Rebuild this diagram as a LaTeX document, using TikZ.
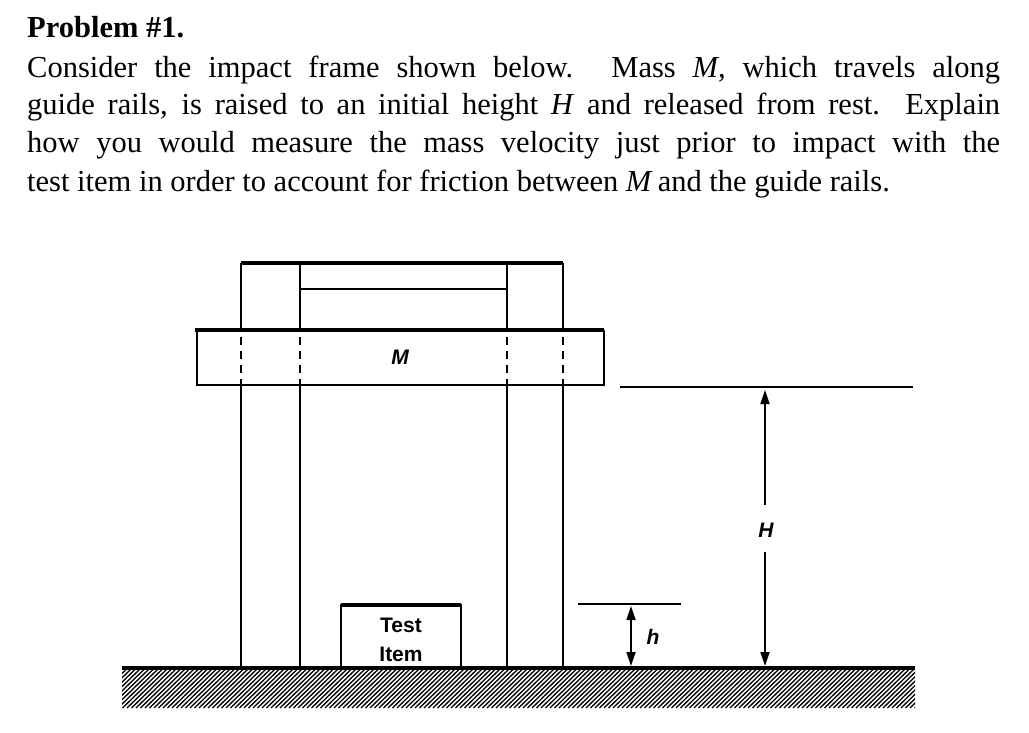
\documentclass[tikz,border=0pt]{standalone}
\usepackage{fontspec}
\setmainfont{Liberation Serif}
\newfontfamily\lab{Liberation Sans}
\usetikzlibrary{arrows.meta}
\begin{document}
\begin{tikzpicture}[x=1pt,y=-1pt,
  ln/.style={line width=2.2pt},
  thk/.style={line width=3.2pt},
  lbl/.style={font=\lab\bfseries\itshape\fontsize{21}{23}\selectfont,inner sep=0},
  txt/.style={anchor=north west,inner sep=0,text width=973pt,align=justify,font=\fontsize{30.5}{36}\selectfont},
  dim/.style={line width=1.8pt,-{Triangle[length=14pt,width=9pt]}}]
\useasboundingbox (0,0) rectangle (1029,733);
\node[txt] (t0) at (27,16) {\textbf{Problem \#1.}};
\node[txt] (t1) at (27,56) {\parfillskip=0pt Consider the impact frame shown below. Mass \textit{M}, which travels along\par};
\node[txt] (t2) at (27,93) {\parfillskip=0pt guide rails, is raised to an initial height \textit{H} and released from rest. Explain\par};
\node[txt] (t3) at (27,131) {\parfillskip=0pt how you would measure the mass velocity just prior to impact with the\par};
\node[txt] (t4) at (27,170) {test item in order to account for friction between \textit{M}\,and the guide rails.};
% frame
\draw[thk] (241,263) -- (563,263);
\draw[ln] (300,289) -- (507,289);
\foreach \x/\t in {241/263,563/263,300/263,507/263}{
  \draw[ln] (\x,\t) -- (\x,330);
  \draw[ln,dash pattern=on 8pt off 6pt] (\x,337) -- (\x,385);
  \draw[ln] (\x,385) -- (\x,668);}
\draw[thk] (195,330) -- (604,330);
\draw[ln] (197,330) -- (197,385) -- (604,385) -- (604,330);
\node[lbl] (m) at (400,357) {M};
% ground
\begin{scope}
\clip (122,669) rectangle (915,708);
\foreach \i in {0,4.5,...,840}{\draw[line width=1.3pt] (122+\i-40,708) -- (122+\i,669);}
\end{scope}
\draw[thk] (122,668) -- (915,668);
% test item
\draw[ln] (341,668) -- (341,605) -- (461,605) -- (461,668);
\draw[thk] (341,605) -- (461,605);
\node[lbl,align=center,font=\lab\bfseries\fontsize{21}{29}\selectfont] (ti) at (401,640) {Test\\Item};
% h
\draw[ln] (578,604) -- (681,604);
\coordinate (hm) at (631,636);
\draw[dim] (hm) -- (631,606);
\draw[dim] (hm) -- (631,666);
\node[lbl] (h) at (653,637) {h};
% H
\draw[ln] (620,387) -- (913,387);
\node[lbl] (Hl) at (766,530) {H};
\draw[dim] (765,505) -- (765,390);
\draw[dim] (765,552) -- (765,666);
\end{tikzpicture}
\end{document}
